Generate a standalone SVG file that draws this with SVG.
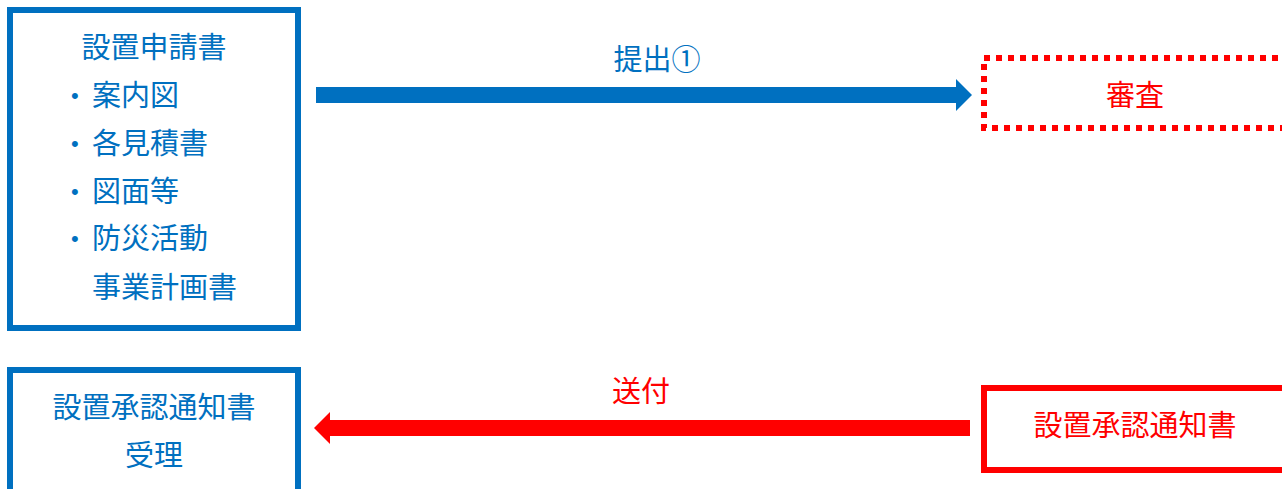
<svg xmlns="http://www.w3.org/2000/svg" width="1282" height="489" viewBox="0 0 1282 489">
<style>
text{font-family:"Noto Sans CJK JP","Noto Sans CJK SC",sans-serif;font-size:29px}
.b{fill:#0070C0}
.r{fill:#FF0000}
.c{text-anchor:middle}
.dot{font-family:"Liberation Sans",sans-serif;font-size:22px}
.boxb{fill:#fff;stroke:#0070C0;stroke-width:6}
.boxr{fill:#fff;stroke:#FF0000;stroke-width:6}
.dash{stroke-dasharray:6 6}
</style>
<rect width="1282" height="489" fill="#fff"/>
<g id="node-application">
<rect class="boxb" x="10" y="10" width="288" height="318"/>
<text class="b c" x="154" y="58">設置申請書</text>
<text class="b dot" x="71" y="103">•</text>
<text class="b" x="92" y="106">案内図</text>
<text class="b dot" x="71" y="151">•</text>
<text class="b" x="92" y="154">各見積書</text>
<text class="b dot" x="71" y="199">•</text>
<text class="b" x="92" y="202">図面等</text>
<text class="b dot" x="71" y="246">•</text>
<text class="b" x="92" y="249">防災活動</text>
<text class="b" x="92" y="298">事業計画書</text>
</g>
<g id="node-review">
<rect class="boxr dash" x="984" y="58" width="320" height="70"/>
<text class="r c" x="1135" y="106">審査</text>
</g>
<g id="node-receipt">
<rect class="boxb" x="10" y="370" width="288" height="140"/>
<text class="b c" x="154" y="418">設置承認通知書</text>
<text class="b c" x="154" y="466">受理</text>
</g>
<g id="node-notice">
<rect class="boxr" x="984" y="388" width="320" height="82"/>
<text class="r c" x="1135" y="436">設置承認通知書</text>
</g>
<g id="connectors">
<polygon class="b" points="316,87 956,87 956,79 972,95 956,111 956,103 316,103"/>
<text class="b c" x="657" y="70">提出①</text>
<polygon class="r" points="970,420 330,420 330,412 314,428 330,444 330,436 970,436"/>
<text class="r c" x="641" y="402">送付</text>
</g>
</svg>
